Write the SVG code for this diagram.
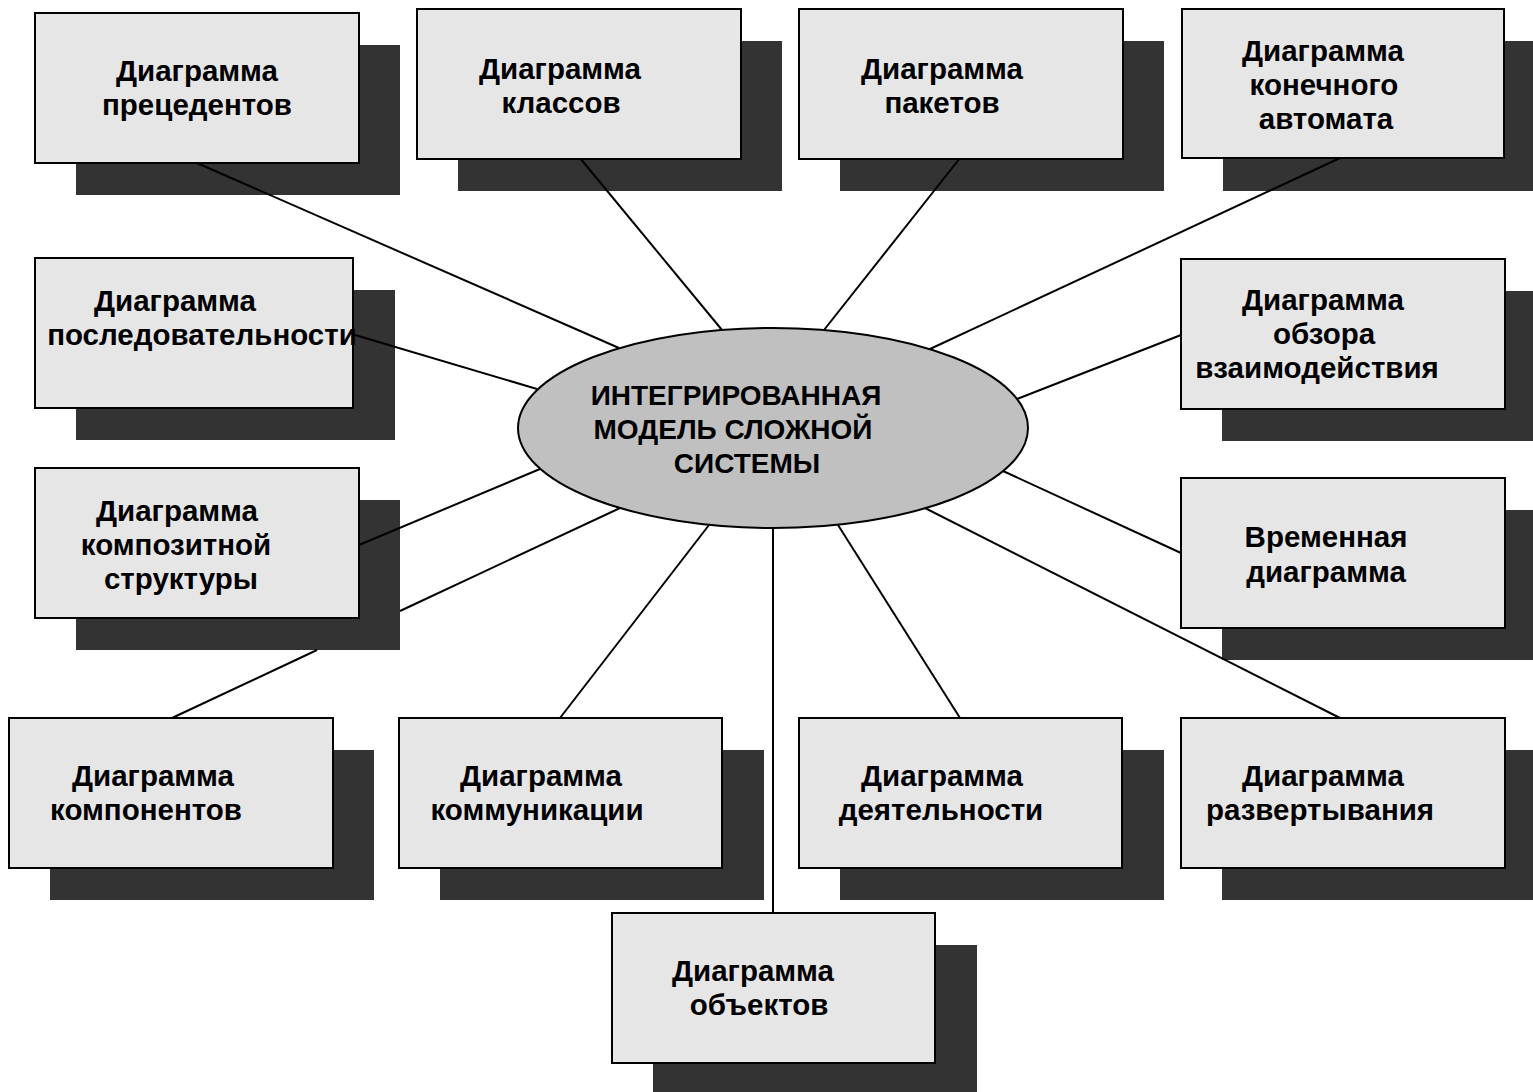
<svg xmlns="http://www.w3.org/2000/svg" width="1533" height="1092" viewBox="0 0 1533 1092">
  <style>
    .shadow { fill: #333333; }
    .box { fill: #e6e6e6; stroke: #000000; stroke-width: 2; }
    .hub { fill: #c0c0c0; stroke: #000000; stroke-width: 2; }
    .link { stroke: #000000; stroke-width: 2; fill: none; }
    text { font-family: "Liberation Sans", Arial, sans-serif; font-weight: bold; font-size: 29.5px; fill: #000000; text-anchor: middle; }
    .hub-label { font-size: 28px; }
  </style>
  <rect width="1533" height="1092" fill="#ffffff"/>

  <!-- shadows of all diagram-type boxes -->
  <g id="shadows">
    <rect class="shadow" x="76" y="45" width="324" height="150"/>
    <rect class="shadow" x="458" y="41" width="324" height="150"/>
    <rect class="shadow" x="840" y="41" width="324" height="150"/>
    <rect class="shadow" x="1223" y="41" width="324" height="150"/>
    <rect class="shadow" x="76" y="290" width="319" height="150"/>
    <rect class="shadow" x="1222" y="291" width="324" height="150"/>
    <rect class="shadow" x="76" y="500" width="324" height="150"/>
    <rect class="shadow" x="1222" y="510" width="324" height="150"/>
    <rect class="shadow" x="50" y="750" width="324" height="150"/>
    <rect class="shadow" x="440" y="750" width="324" height="150"/>
    <rect class="shadow" x="840" y="750" width="324" height="150"/>
    <rect class="shadow" x="1222" y="750" width="324" height="150"/>
    <rect class="shadow" x="653" y="945" width="324" height="150"/>
  </g>

  <!-- spokes from the central model to each diagram -->
  <g id="connectors">
    <line class="link" x1="197" y1="163" x2="619" y2="348"/>
    <line class="link" x1="580" y1="158" x2="722" y2="330"/>
    <line class="link" x1="960" y1="158" x2="824" y2="330"/>
    <line class="link" x1="1340" y1="158" x2="930" y2="349"/>
    <line class="link" x1="355" y1="335" x2="537" y2="389"/>
    <line class="link" x1="1181" y1="335" x2="1017" y2="399"/>
    <line class="link" x1="359" y1="545" x2="540" y2="469"/>
    <line class="link" x1="1181" y1="553" x2="1003" y2="471"/>
    <!-- passes behind the composite-structure shadow -->
    <path class="link" d="M172 718 L317 650 M400 611 L620 508"/>
    <line class="link" x1="560" y1="718" x2="709" y2="525"/>
    <line class="link" x1="773" y1="528" x2="773" y2="913"/>
    <line class="link" x1="960" y1="718" x2="838" y2="525"/>
    <line class="link" x1="1340" y1="718" x2="925" y2="508"/>
  </g>

  <g id="hub">
    <ellipse class="hub" cx="773" cy="428" rx="255" ry="100"/>
    <text class="hub-label" x="736" y="405">ИНТЕГРИРОВАННАЯ</text>
    <text class="hub-label" x="733" y="439">МОДЕЛЬ СЛОЖНОЙ</text>
    <text class="hub-label" x="747" y="473">СИСТЕМЫ</text>
  </g>

  <g id="use-case">
    <rect class="box" x="35" y="13" width="324" height="150"/>
    <text x="197" y="81">Диаграмма</text>
    <text x="197" y="115">прецедентов</text>
  </g>
  <g id="class">
    <rect class="box" x="417" y="9" width="324" height="150"/>
    <text x="560" y="79">Диаграмма</text>
    <text x="561" y="113">классов</text>
  </g>
  <g id="package">
    <rect class="box" x="799" y="9" width="324" height="150"/>
    <text x="942" y="79">Диаграмма</text>
    <text x="942" y="113">пакетов</text>
  </g>
  <g id="state-machine">
    <rect class="box" x="1182" y="9" width="322" height="149"/>
    <text x="1323" y="61">Диаграмма</text>
    <text x="1324" y="95">конечного</text>
    <text x="1326" y="129">автомата</text>
  </g>
  <g id="sequence">
    <rect class="box" x="35" y="258" width="318" height="150"/>
    <text x="175" y="311">Диаграмма</text>
    <text x="202" y="345">последовательности</text>
  </g>
  <g id="interaction-overview">
    <rect class="box" x="1181" y="259" width="324" height="150"/>
    <text x="1323" y="310">Диаграмма</text>
    <text x="1324" y="344">обзора</text>
    <text x="1317" y="378">взаимодействия</text>
  </g>
  <g id="composite-structure">
    <rect class="box" x="35" y="468" width="324" height="150"/>
    <text x="177" y="521">Диаграмма</text>
    <text x="176" y="555">композитной</text>
    <text x="181" y="589">структуры</text>
  </g>
  <g id="timing">
    <rect class="box" x="1181" y="478" width="324" height="150"/>
    <text x="1326" y="547">Временная</text>
    <text x="1326" y="582">диаграмма</text>
  </g>
  <g id="component">
    <rect class="box" x="9" y="718" width="324" height="150"/>
    <text x="153" y="786">Диаграмма</text>
    <text x="146" y="820">компонентов</text>
  </g>
  <g id="communication">
    <rect class="box" x="399" y="718" width="323" height="150"/>
    <text x="541" y="786">Диаграмма</text>
    <text x="537" y="820">коммуникации</text>
  </g>
  <g id="activity">
    <rect class="box" x="799" y="718" width="323" height="150"/>
    <text x="942" y="786">Диаграмма</text>
    <text x="941" y="820">деятельности</text>
  </g>
  <g id="deployment">
    <rect class="box" x="1181" y="718" width="324" height="150"/>
    <text x="1323" y="786">Диаграмма</text>
    <text x="1320" y="820">развертывания</text>
  </g>
  <g id="object">
    <rect class="box" x="612" y="913" width="323" height="150"/>
    <text x="753" y="981">Диаграмма</text>
    <text x="759" y="1015">объектов</text>
  </g>
</svg>
